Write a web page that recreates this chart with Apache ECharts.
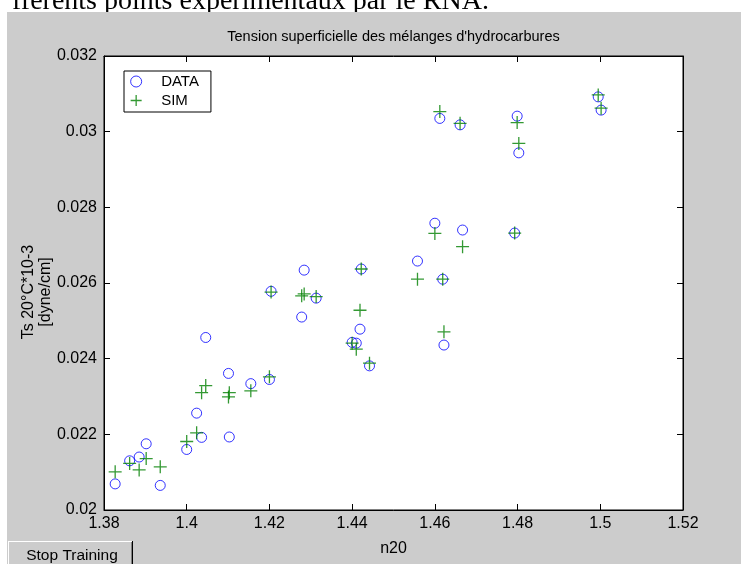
<!DOCTYPE html>
<html>
<head>
<meta charset="utf-8">
<script src="https://cdn.jsdelivr.net/npm/echarts@6/dist/echarts.min.js"></script>
<style>
html,body{margin:0;padding:0;background:#fff;}
#c{width:741px;height:564px;}
</style>
</head>
<body>
<div id="c"></div>
<script>
// ---- data ----
const n20 = [1.3827,1.3862,1.3885,1.3902,1.3936,1.4000,1.4024,1.4036,1.4046,1.4101,1.4103,1.4155,1.4200,1.4204,1.4278,1.4284,1.4313,1.4400,1.4410,1.4419,1.4422,1.4442,1.4558,1.4600,1.4612,1.4619,1.4622,1.4661,1.4667,1.4793,1.4799,1.4803,1.4995,1.5002];
const tsData = [0.02069,0.02130,0.02140,0.02175,0.02065,0.02160,0.02256,0.02192,0.02456,0.02361,0.02193,0.02334,0.02345,0.02578,0.02510,0.02634,0.02560,0.02443,0.02441,0.02478,0.02637,0.02381,0.02658,0.02758,0.03035,0.02610,0.02436,0.03018,0.02740,0.02732,0.03041,0.02944,0.03092,0.03057];
const tsSim = [0.02101,0.02123,0.02106,0.02136,0.02114,0.02181,0.02204,0.02310,0.02329,0.02299,0.02310,0.02315,0.02352,0.02576,0.02566,0.02571,0.02564,0.02441,0.02425,0.02528,0.02637,0.02388,0.02610,0.02731,0.03053,0.02610,0.02471,0.03022,0.02696,0.02732,0.03024,0.02969,0.03097,0.03062];
const xTickLabels = ['1.38','1.4','1.42','1.44','1.46','1.48','1.5','1.52'];
const yTickLabels = ['0.02','0.022','0.024','0.026','0.028','0.03','0.032'];
const seriesNames = ['DATA','SIM'];
const titleText = "Tension superficielle des mélanges d'hydrocarbures";
const xName = 'n20';
const yName = 'Ts 20°C*10-3\n[dyne/cm]';
const topText = 'fférents points expérimentaux par le RNA.';
const buttonText = 'Stop Training';

const FONT = '"Liberation Sans", Arial, sans-serif';
const xMin = +xTickLabels[0], xMax = +xTickLabels[xTickLabels.length-1];
const yMin = +yTickLabels[0], yMax = +yTickLabels[yTickLabels.length-1];
const xStep = 0.02, yStep = 0.002;
function nearestLabel(list){
  return v => { let best = list[0], d = Infinity; list.forEach(l => { const dd = Math.abs(+l - v); if (dd < d) { d = dd; best = l; } }); return best; };
}
const plusPath = 'path://M0,5L10,5M5,0L5,10';

const axisCommon = {
  type: 'value',
  axisLine: {show: true, onZero: false, lineStyle: {color: '#000', width: 1}},
  axisTick: {show: true, inside: true, length: 6, lineStyle: {color: '#000', width: 1}},
  splitLine: {show: false}
};

const chart = echarts.init(document.getElementById('c'), null, {renderer: 'canvas'});
chart.setOption({
  animation: false,
  backgroundColor: '#fff',
  grid: {left: 104, right: 58, top: 56, bottom: 54, show: true, backgroundColor: '#fff', borderColor: '#000', borderWidth: 1},
  xAxis: [
    Object.assign({}, axisCommon, {
      min: xMin, max: xMax, interval: xStep, position: 'bottom',
      axisLabel: {margin: 6, color: '#000', fontSize: 16, fontFamily: FONT, formatter: nearestLabel(xTickLabels)},
      name: xName, nameLocation: 'middle', nameGap: 31,
      nameTextStyle: {color: '#000', fontSize: 16, fontFamily: FONT}
    }),
    Object.assign({}, axisCommon, {
      min: xMin, max: xMax, interval: xStep, position: 'top', axisLabel: {show: false}
    })
  ],
  yAxis: [
    Object.assign({}, axisCommon, {
      min: yMin, max: yMax, interval: yStep, position: 'left',
      axisLabel: {margin: 7, color: '#000', fontSize: 16, fontFamily: FONT, formatter: nearestLabel(yTickLabels)}
    }),
    Object.assign({}, axisCommon, {
      min: yMin, max: yMax, interval: yStep, position: 'right', axisLabel: {show: false}
    })
  ],
  legend: {
    show: true, orient: 'vertical', left: 124, top: 71,
    padding: [3, 12, 4, 6], itemGap: 4, itemWidth: 40, itemHeight: 11,
    borderColor: '#000', borderWidth: 1, backgroundColor: '#fff',
    selectedMode: false,
    textStyle: {color: '#000', fontSize: 15, fontFamily: FONT},
    data: [
      {name: seriesNames[0], icon: 'circle', itemStyle: {color: 'transparent', borderColor: '#0000ff', borderWidth: 1}},
      {name: seriesNames[1], icon: plusPath, itemStyle: {color: 'transparent', borderColor: '#008000', borderWidth: 1.3}}
    ]
  },
  series: [
    {
      type: 'scatter', name: seriesNames[0], xAxisIndex: 0, yAxisIndex: 0,
      data: n20.map((x, i) => [x, tsData[i]]),
      symbol: 'circle', symbolSize: 10, silent: true,
      itemStyle: {color: 'transparent', borderColor: '#0000ff', borderWidth: 1}
    },
    {
      type: 'scatter', name: seriesNames[1], xAxisIndex: 0, yAxisIndex: 0,
      data: n20.map((x, i) => [x, tsSim[i]]),
      symbol: plusPath, symbolSize: 13, silent: true,
      itemStyle: {color: 'transparent', borderColor: '#008000', borderWidth: 1.3}
    }
  ],
  graphic: [
    {type: 'text', z: -2, x: 12, y: 16, silent: true,
     style: {text: topText, font: '28px "Liberation Serif", "Times New Roman", serif', fill: '#000', verticalAlign: 'bottom', textAlign: 'left'}},
    {type: 'rect', z: -1, silent: true, shape: {x: 7, y: 12, width: 734, height: 552}, style: {fill: '#cccccc'}},
    {type: 'text', z: 10, x: 393.5, y: 37, silent: true,
     style: {text: titleText, font: '14.5px ' + FONT, fill: '#000', textAlign: 'center', verticalAlign: 'middle'}},
    {type: 'text', z: 10, x: 37, y: 292, rotation: Math.PI / 2, silent: true,
     style: {text: yName, font: '16px ' + FONT, fill: '#000', textAlign: 'center', verticalAlign: 'middle', lineHeight: 17}},
    {type: 'group', z: 10, x: 8, y: 541, silent: true, children: [
      {type: 'rect', shape: {x: 0, y: 0, width: 125, height: 30}, style: {fill: '#cccccc'}},
      {type: 'line', shape: {x1: 0, y1: 0.5, x2: 124, y2: 0.5}, style: {stroke: '#ffffff', lineWidth: 1}},
      {type: 'line', shape: {x1: 0.5, y1: 0, x2: 0.5, y2: 30}, style: {stroke: '#ffffff', lineWidth: 1}},
      {type: 'line', shape: {x1: 123.5, y1: 1, x2: 123.5, y2: 30}, style: {stroke: '#808080', lineWidth: 1}},
      {type: 'line', shape: {x1: 124.5, y1: 0, x2: 124.5, y2: 30}, style: {stroke: '#000000', lineWidth: 1}},
      {type: 'text', x: 64, y: 15, style: {text: buttonText, font: '15.5px ' + FONT, fill: '#000', textAlign: 'center', verticalAlign: 'middle'}}
    ]}
  ]
});
</script>
</body>
</html>
